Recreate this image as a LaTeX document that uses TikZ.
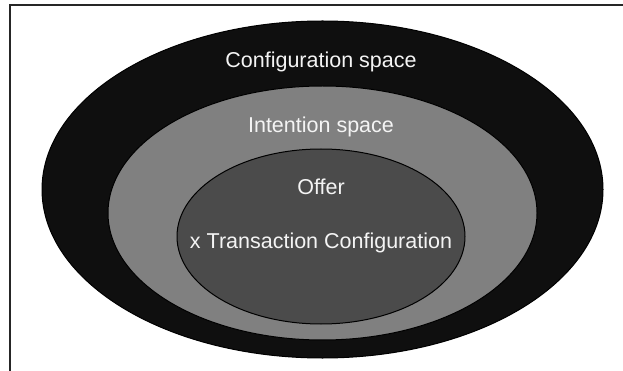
\documentclass[tikz,border=0pt]{standalone}
\usepackage{fontspec}
\setmainfont{Liberation Sans}
\usetikzlibrary{shapes.geometric}
\definecolor{outerfill}{HTML}{0F0F0F}
\definecolor{midfill}{HTML}{808080}
\definecolor{innerfill}{HTML}{4B4B4B}
\definecolor{labeltext}{HTML}{F4F4F4}
\begin{document}
\begin{tikzpicture}[x=1pt,y=1pt,
  space/.style={ellipse, draw=black, line width=1pt, inner sep=0pt, outer sep=0pt},
  lbl/.style={anchor=base, text=labeltext, font=\fontsize{21.5}{25}\selectfont, inner sep=0pt},
  frameline/.style={draw=black!85, line width=1.3pt}]
\useasboundingbox (0,0) rectangle (623,-371);
% frame (only top and left edges visible)
\coordinate (fbl) at (10,-380);
\coordinate (ftl) at (10,-5);
\coordinate (ftr) at (630,-5);
\draw[frameline] (fbl) -- (ftl) -- (ftr);
% nested spaces
\node[space, fill=outerfill, minimum width=561pt, minimum height=337pt] (outer) at (322.5,-189.5) {};
\node[space, fill=midfill, minimum width=429pt, minimum height=254pt] (mid) at (322.5,-213) {};
\node[space, fill=innerfill, minimum width=288pt, minimum height=175pt] (inner) at (321,-236.5) {};
% labels
\node[lbl] (cfg) at (321,-68) {Configuration space};
\node[lbl] (int) at (321,-133) {Intention space};
\node[lbl] (off) at (321,-195) {Offer};
\node[lbl] (trc) at (321,-248) {x Transaction Configuration};
\end{tikzpicture}
\end{document}
